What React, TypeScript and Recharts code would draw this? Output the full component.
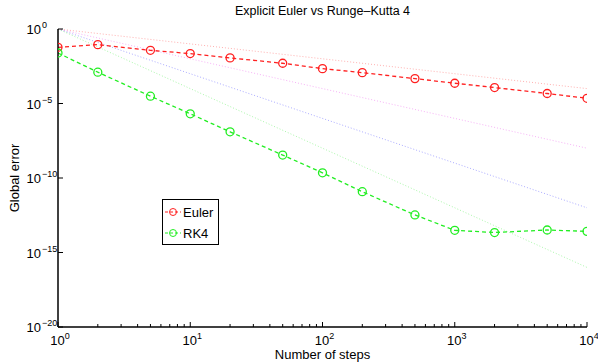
import React from "react";
import { LineChart, Line, XAxis, YAxis, Legend } from "recharts";

// step counts used for both methods
const steps = [1, 2, 5, 10, 20, 50, 100, 200, 500, 1000, 2000, 5000, 10000];

// global error (log10 values)
const eulerLog = [-1.23, -1.05, -1.43, -1.65, -1.94, -2.3, -2.66, -2.93, -3.33, -3.64, -3.93, -4.33, -4.65];
const rk4Log = [-1.61, -2.9, -4.51, -5.69, -6.9, -8.46, -9.65, -10.92, -12.48, -13.51, -13.66, -13.49, -13.58];

// reference slopes N^-p, drawn from (1, 1) to (1e4, 1e-4p)
const refEnds = [1, 10000];
const refOrder1 = [1, 1e-4];
const refOrder2 = [1, 1e-8];
const refOrder3 = [1, 1e-12];
const refOrder4 = [1, 1e-16];

const xMajor = [1, 10, 100, 1000, 10000];
const xMinor = [2, 3, 4, 5, 6, 7, 8, 9, 20, 30, 40, 50, 60, 70, 80, 90, 200, 300, 400, 500, 600, 700, 800, 900, 2000, 3000, 4000, 5000, 6000, 7000, 8000, 9000];
const yTicks = [1, 1e-5, 1e-10, 1e-15, 1e-20];

const eulerData = steps.map((n, i) => ({ n, err: Math.pow(10, eulerLog[i]) }));
const rk4Data = steps.map((n, i) => ({ n, err: Math.pow(10, rk4Log[i]) }));
const mkRef = (vals: number[]) => refEnds.map((n, i) => ({ n, err: vals[i] }));

const FONT = "'Liberation Sans', Arial, Helvetica, sans-serif";
const xTicks = [...xMajor, ...xMinor].sort((a, b) => a - b);

const exp = (v: number) => Math.round(Math.log10(v));

function BottomTick({ x, y, payload }: any) {
  const v = payload.value;
  const major = xMajor.includes(v);
  return (
    <g>
      <line x1={x} x2={x} y1={y} y2={y - (major ? 5 : 3)} stroke="#000" strokeWidth={1} />
      {major && (
        <text x={x + 2} y={y + 18} textAnchor="middle" fontSize={13} fontFamily={FONT} fill="#000">
          10
          <tspan dy={-6} fontSize={9}>{exp(v)}</tspan>
        </text>
      )}
    </g>
  );
}

function TopTick({ x, y, payload }: any) {
  const major = xMajor.includes(payload.value);
  return <line x1={x} x2={x} y1={y} y2={y + (major ? 5 : 3)} stroke="#000" strokeWidth={1} />;
}

function LeftTick({ x, y, payload }: any) {
  const v = payload.value;
  const e = exp(v);
  return (
    <g>
      <line x1={x} x2={x + 5} y1={y} y2={y} stroke="#000" strokeWidth={1} />
      <text x={x - 17} y={y + 5} textAnchor="end" fontSize={13} fontFamily={FONT} fill="#000">
        10
      </text>
      <text x={x - 16} y={y - 1} textAnchor="start" fontSize={9} fontFamily={FONT} fill="#000">
        {e === 0 ? "0" : "\u2212" + Math.abs(e)}
      </text>
    </g>
  );
}

function RightTick({ x, y }: any) {
  return <line x1={x} x2={x - 5} y1={y} y2={y} stroke="#000" strokeWidth={1} />;
}

function LegendBox() {
  const rows = [
    { name: "Euler", color: "#ff2020" },
    { name: "RK4", color: "#22ee22" },
  ];
  return (
    <svg width={57} height={46} style={{ display: "block" }}>
      <rect x={0.5} y={0.5} width={56} height={45} fill="#fff" stroke="#000" strokeWidth={1} />
      {rows.map((r, i) => {
        const cy = 13 + i * 21;
        return (
          <g key={r.name}>
            <line x1={3} x2={19} y1={cy} y2={cy} stroke={r.color} strokeWidth={1} strokeDasharray="3 2" />
            <circle cx={11} cy={cy} r={3.5} fill="none" stroke={r.color} strokeWidth={1} />
            <text x={21} y={cy + 4.5} fontSize={13} fontFamily={FONT} fill="#000">
              {r.name}
            </text>
          </g>
        );
      })}
    </svg>
  );
}

export default function App() {
  return (
    <div style={{ position: "absolute", left: 0, top: 0, width: 598, height: 362, background: "#fff" }}>
      <div
        style={{
          position: "absolute",
          left: 58,
          width: 529,
          top: 4,
          textAlign: "center",
          fontFamily: FONT,
          fontSize: 12.5,
          color: "#000",
        }}
      >
        Explicit Euler vs Runge{"\u2013"}Kutta 4
      </div>
      <div
        style={{
          position: "absolute",
          left: 58,
          width: 529,
          top: 347,
          textAlign: "center",
          fontFamily: FONT,
          fontSize: 13,
          color: "#000",
          lineHeight: "16px",
        }}
      >
        Number of steps
      </div>
      <div
        style={{
          position: "absolute",
          left: 14,
          top: 178,
          transform: "translate(-50%, -50%) rotate(-90deg)",
          fontFamily: FONT,
          fontSize: 13,
          color: "#000",
          whiteSpace: "nowrap",
        }}
      >
        Global error
      </div>
      <LineChart width={598} height={362} margin={{ top: 29, right: 11, left: 0, bottom: 0 }} style={{ position: "absolute", left: 0, top: 0 }}>
        <XAxis
          xAxisId="b"
          dataKey="n"
          type="number"
          scale="log"
          domain={[1, 10000]}
          allowDataOverflow
          ticks={xTicks}
          interval={0}
          height={35}
          tickSize={0}
          tickMargin={0}
          tickLine={false}
          axisLine={{ stroke: "#000", strokeWidth: 1.5 }}
          tick={<BottomTick />}
        />
        <XAxis
          xAxisId="t"
          orientation="top"
          dataKey="n"
          type="number"
          scale="log"
          domain={[1, 10000]}
          allowDataOverflow
          ticks={xTicks}
          interval={0}
          height={0}
          tickSize={0}
          tickMargin={0}
          tickLine={false}
          axisLine={{ stroke: "#000", strokeWidth: 1.2 }}
          tick={<TopTick />}
        />
        <YAxis
          yAxisId="l"
          dataKey="err"
          type="number"
          scale="log"
          domain={[1e-20, 1]}
          allowDataOverflow
          ticks={yTicks}
          interval={0}
          width={58}
          tickSize={0}
          tickMargin={0}
          tickLine={false}
          axisLine={{ stroke: "#000", strokeWidth: 1.5 }}
          tick={<LeftTick />}
        />
        <YAxis
          yAxisId="r"
          orientation="right"
          dataKey="err"
          type="number"
          scale="log"
          domain={[1e-20, 1]}
          allowDataOverflow
          ticks={yTicks}
          interval={0}
          width={0}
          tickSize={0}
          tickMargin={0}
          tickLine={false}
          axisLine={{ stroke: "#222", strokeWidth: 1.5 }}
          tick={<RightTick />}
        />
        <Line xAxisId="b" yAxisId="l" data={mkRef(refOrder1)} dataKey="err" stroke="#ff7070" strokeOpacity={0.55} strokeWidth={1} strokeDasharray="1 2" dot={false} isAnimationActive={false} legendType="none" />
        <Line xAxisId="b" yAxisId="l" data={mkRef(refOrder2)} dataKey="err" stroke="#ee66ee" strokeOpacity={0.5} strokeWidth={1} strokeDasharray="1 2" dot={false} isAnimationActive={false} legendType="none" />
        <Line xAxisId="b" yAxisId="l" data={mkRef(refOrder3)} dataKey="err" stroke="#6666ff" strokeOpacity={0.55} strokeWidth={1} strokeDasharray="1 2" dot={false} isAnimationActive={false} legendType="none" />
        <Line xAxisId="b" yAxisId="l" data={mkRef(refOrder4)} dataKey="err" stroke="#66ee66" strokeOpacity={0.55} strokeWidth={1} strokeDasharray="1 2" dot={false} isAnimationActive={false} legendType="none" />
        <Line
          xAxisId="b"
          yAxisId="l"
          name="Euler"
          data={eulerData}
          dataKey="err"
          stroke="#ff2020"
          strokeWidth={1.3}
          strokeDasharray="4 3"
          dot={{ r: 4, fill: "none", stroke: "#ff2020", strokeWidth: 1.3, strokeDasharray: "" }}
          isAnimationActive={false}
        />
        <Line
          xAxisId="b"
          yAxisId="l"
          name="RK4"
          data={rk4Data}
          dataKey="err"
          stroke="#22ee22"
          strokeWidth={1.3}
          strokeDasharray="4 3"
          dot={{ r: 4, fill: "none", stroke: "#22ee22", strokeWidth: 1.3, strokeDasharray: "" }}
          isAnimationActive={false}
        />
        <Legend
          layout="vertical"
          verticalAlign="middle"
          align="center"
          content={() => <LegendBox />}
          wrapperStyle={{ position: "absolute", left: 162, top: 199, width: 57, height: 46 }}
        />
      </LineChart>
    </div>
  );
}
